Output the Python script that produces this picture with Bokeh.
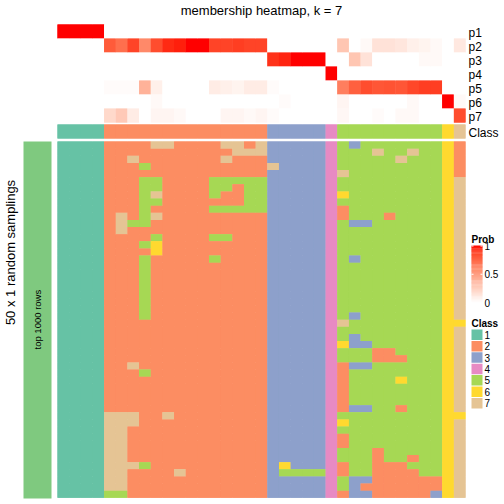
import numpy as np
from bokeh.plotting import figure
from bokeh.models import Range1d
from bokeh.core.properties import value
from bokeh.embed import file_html
from bokeh.resources import INLINE

# ---------------- data ----------------
title = "membership heatmap, k = 7"
prob_labels = ["p1", "p2", "p3", "p4", "p5", "p6", "p7"]
class_names = ["1", "2", "3", "4", "5", "6", "7"]
class_colors = ["#66C2A5", "#FC8D62", "#8DA0CB", "#E78AC3", "#A6D854", "#FFD92F", "#E5C494"]

col_class = [1, 1, 1, 1,
             2, 2, 2, 2, 2, 2, 2, 2, 2, 2, 2, 2, 2, 2,
             3, 3, 3, 3, 3,
             4,
             5, 5, 5, 5, 5, 5, 5, 5, 5,
             6,
             7]

p1 = [1, 1, 1, 1, 0, 0, 0, 0, 0, 0, 0, 0, 0, 0, 0, 0, 0, 0,
      0, 0, 0, 0, 0, 0, 0, 0, 0, 0, 0, 0, 0, 0, 0, 0, 0]
p2 = [0, 0, 0, 0, 0.8, 0.72, 0.88, 0.6, 0.85, 0.95, 0.97, 1.0, 1.0, 0.88, 0.88, 0.9, 0.88, 0.88,
      0, 0, 0, 0, 0, 0, 0.3, 0, 0.03, 0.15, 0.15, 0.13, 0.08, 0.06, 0.03, 0, 0.12]
p3 = [0, 0, 0, 0, 0, 0, 0, 0, 0, 0, 0, 0, 0, 0, 0, 0, 0, 0,
      0.93, 0.96, 1.0, 1.0, 1.0, 0, 0, 0.3, 0.15, 0, 0, 0, 0, 0.03, 0.03, 0, 0]
p4 = [0, 0, 0, 0, 0, 0, 0, 0, 0, 0, 0, 0, 0, 0, 0, 0, 0, 0,
      0, 0, 0, 0, 0, 1.0, 0, 0, 0, 0, 0, 0, 0, 0, 0, 0, 0]
p5 = [0, 0, 0, 0, 0.02, 0.02, 0.02, 0.4, 0.08, 0, 0, 0, 0, 0.1, 0.08, 0.06, 0.1, 0.1,
      0.02, 0, 0, 0, 0, 0, 0.65, 0.78, 0.85, 0.82, 0.83, 0.82, 0.87, 0.9, 0.9, 0, 0]
p6 = [0, 0, 0, 0, 0, 0, 0, 0, 0.03, 0, 0, 0, 0, 0, 0, 0, 0, 0,
      0, 0.02, 0, 0, 0, 0, 0.05, 0, 0, 0, 0, 0, 0.03, 0, 0, 1.0, 0.03]
p7 = [0, 0, 0, 0, 0.2, 0.28, 0.1, 0, 0.05, 0.05, 0.03, 0, 0, 0, 0.05, 0.05, 0.03, 0.05,
      0.02, 0, 0, 0, 0, 0, 0.04, 0, 0, 0.02, 0, 0.03, 0.03, 0, 0, 0, 0.85]
probs = [p1, p2, p3, p4, p5, p6, p7]

# 50 random samplings (rows) x 35 samples (columns): class assignment
samplings = [
    "1111 22227722227727 33333 4 535555555 6 2",
    "1111 22222222222777 33333 4 555755755 6 2",
    "1111 22722222227222 33333 4 555557555 6 2",
    "1111 22252222222222 73333 4 555555555 6 2",
    "1111 22222222222222 33333 4 755555555 6 2",
    "1111 22255222255555 33333 4 555555555 6 7",
    "1111 22255222255255 33333 4 555555555 6 7",
    "1111 22257222252255 33333 4 655555555 6 7",
    "1111 22255222222255 33333 4 555555555 6 7",
    "1111 22252222255555 33333 4 255555555 6 7",
    "1111 27257222222222 33333 4 255525555 6 7",
    "1111 27552222222222 33333 4 533555555 6 7",
    "1111 27222222222222 33333 4 555555555 6 7",
    "1111 22225222255222 33333 4 555555555 6 7",
    "1111 22256222222222 33333 4 555555555 6 7",
    "1111 22226222222222 33333 4 555555555 6 7",
    "1111 22252222252222 33333 4 535555555 6 7",
    "1111 22252222222222 33333 4 555555555 6 7",
    "1111 22252222222222 33333 4 555555555 6 7",
    "1111 22252222222222 33333 4 555555555 6 7",
    "1111 22252222222222 33333 4 555555555 6 7",
    "1111 22252222222222 33333 4 555555555 6 7",
    "1111 22252222222222 33333 4 555555555 6 7",
    "1111 22252222222222 33333 4 555555555 6 7",
    "1111 22252222222222 33333 4 535555555 6 7",
    "1111 22222222222222 33333 4 755555555 6 6",
    "1111 22222222222222 33333 4 555555555 6 7",
    "1111 22222222222222 33333 4 535555555 6 7",
    "1111 22222222222222 33333 4 633555555 6 7",
    "1111 22222222222222 33333 4 555225555 6 7",
    "1111 22222222222222 33333 4 555222555 6 7",
    "1111 22722222222222 33333 4 233555555 6 7",
    "1111 22252222222222 33333 4 255555555 6 7",
    "1111 22222222222222 33333 4 255556555 6 7",
    "1111 22222222222222 33333 4 255555555 6 7",
    "1111 22222222222222 33333 4 255555555 6 7",
    "1111 22222222222222 33333 4 255555555 6 7",
    "1111 22222222222222 33333 4 233552555 6 7",
    "1111 77722722222222 33333 4 555555555 6 6",
    "1111 77722222222222 33333 4 655555555 6 7",
    "1111 77222222222222 33333 4 555555555 6 7",
    "1111 77222222222222 33333 4 255555555 6 7",
    "1111 77222222222222 33333 4 255555555 6 7",
    "1111 77222222222222 33333 4 555255555 6 7",
    "1111 77222222222222 33333 4 555255255 6 7",
    "1111 77752222222222 36333 4 255222555 6 7",
    "1111 77222272222222 35555 4 255222255 6 7",
    "1111 77222222222222 33333 4 533222222 6 7",
    "1111 77222222222222 33333 4 532222222 6 7",
    "1111 55222222222222 33333 4 233222223 6 7",
]
left_label = "50 x 1 random samplings"
bar_label = "top 1000 rows"
prob_ticks = [0, 0.5, 1]

# ---------------- colour helpers ----------------
def lab_to_hex(L, a, b):
    fy = (L + 16) / 116.0
    fx = fy + a / 500.0
    fz = fy - b / 200.0
    def finv(t):
        return t ** 3 if t ** 3 > 0.008856 else (t - 16 / 116.0) / 7.787
    X, Y, Z = 0.95047 * finv(fx), 1.0 * finv(fy), 1.08883 * finv(fz)
    r = 3.2406 * X - 1.5372 * Y - 0.4986 * Z
    g = -0.9689 * X + 1.8758 * Y + 0.0415 * Z
    bb = 0.0557 * X - 0.2040 * Y + 1.0570 * Z
    def gam(c):
        c = 12.92 * c if c <= 0.0031308 else 1.055 * c ** (1 / 2.4) - 0.055
        return int(round(min(max(c, 0), 1) * 255))
    return "#%02x%02x%02x" % (gam(r), gam(g), gam(bb))

WHITE_LAB = (100.0, 0.0, 0.0)
RED_LAB = (53.24, 80.09, 67.20)

def prob_color(v):
    return lab_to_hex(*[w + (r - w) * v for w, r in zip(WHITE_LAB, RED_LAB)])

# ---------------- geometry (pixel space of the 504x504 page) ----------------
X0, X1 = 57.0, 465.0
NC = len(col_class)
CW = (X1 - X0) / NC
TY0, TH = 24.0, 14.0
CY0, CH = 124.0, 14.0
BY0, BY1 = 141.0, 497.3
NR = len(samplings)
BH = (BY1 - BY0) / NR
FONT = "Liberation Sans"

p = figure(width=504, height=504, x_range=Range1d(0, 504), y_range=Range1d(504, 0),
           output_backend="svg", toolbar_location=None, min_border=0)
p.axis.visible = False
p.xgrid.visible = False
p.ygrid.visible = False
p.outline_line_color = None
p.background_fill_color = "white"


def draw_grid(colors, y_top, row_h):
    """Draw a colour matrix as merged runs: horizontal runs first, then vertical
    runs on top, so no anti-aliasing seams appear between equal neighbours."""
    nr, nc = len(colors), len(colors[0])
    L, R, T, B, C = [], [], [], [], []
    for i in range(nr):
        j = 0
        while j < nc:
            k = j
            while k + 1 < nc and colors[i][k + 1] == colors[i][j]:
                k += 1
            L.append(X0 + j * CW); R.append(X0 + (k + 1) * CW)
            T.append(y_top + i * row_h); B.append(y_top + (i + 1) * row_h)
            C.append(colors[i][j])
            j = k + 1
    p.quad(left=L, right=R, top=T, bottom=B, fill_color=C, line_color=None)
    L, R, T, B, C = [], [], [], [], []
    for j in range(nc):
        i = 0
        while i < nr:
            k = i
            while k + 1 < nr and colors[k + 1][j] == colors[i][j]:
                k += 1
            L.append(X0 + j * CW); R.append(X0 + (j + 1) * CW)
            T.append(y_top + i * row_h); B.append(y_top + (k + 1) * row_h)
            C.append(colors[i][j])
            i = k + 1
    p.quad(left=L, right=R, top=T, bottom=B, fill_color=C, line_color=None)


# top probability heatmap (rows p1..p7)
draw_grid([[prob_color(v) for v in row] for row in probs], TY0, TH)

# class annotation row
draw_grid([[class_colors[c - 1] for c in col_class]], CY0, CH)

# bottom sampling heatmap
draw_grid([[class_colors[int(ch) - 1] for ch in s.replace(" ", "")] for s in samplings], BY0, BH)

# left green split bar
p.quad(left=[23], right=[51], top=[BY0], bottom=[BY1 + 0.8], fill_color="#7FC97F", line_color=None)
p.text(x=[37], y=[(BY0 + BY1) / 2], text=[bar_label], angle=np.pi / 2,
       text_font=value(FONT), text_font_size="9.5px", text_align="center",
       text_baseline="middle", text_color="black")
p.text(x=[10], y=[252], text=[left_label], angle=np.pi / 2,
       text_font=value(FONT), text_font_size="13px", text_align="center",
       text_baseline="middle", text_color="black")

# title
p.text(x=[(X0 + X1) / 2], y=[10], text=[title], text_font=value(FONT), text_font_size="13px",
       text_align="center", text_baseline="middle", text_color="black")

# row labels
p.text(x=[468] * 8, y=[TY0 + (i + 0.5) * TH + 1.5 for i in range(7)] + [CY0 + CH / 2 + 1],
       text=prob_labels + ["Class"], text_font=value(FONT), text_font_size="12px",
       text_align="left", text_baseline="middle", text_color="black")

# Prob legend (colour bar)
LX0, LX1 = 471.0, 482.0
CB_TOP, CB_BOT = 245.5, 302.0
ns = 60
dy = (CB_BOT - CB_TOP) / ns
gc = [prob_color((k + 0.5) / ns) for k in range(ns)]
p.quad(left=[LX0] * ns, right=[LX1] * ns,
       top=[CB_BOT - (k + 1) * dy - 0.4 for k in range(ns)],
       bottom=[CB_BOT - k * dy for k in range(ns)],
       fill_color=gc, line_color=None)
for t in prob_ticks[1:]:
    yy = CB_BOT - t * (CB_BOT - CB_TOP)
    p.segment(x0=[LX0, LX1 - 2], x1=[LX0 + 2, LX1], y0=[yy, yy], y1=[yy, yy],
              line_color="white", line_width=1)
p.text(x=[484] * 3, y=[CB_BOT - t * (CB_BOT - CB_TOP) for t in prob_ticks],
       text=["0", "0.5", "1"], text_font=value(FONT), text_font_size="10px",
       text_align="left", text_baseline="middle", text_color="black")
p.text(x=[471], y=[239], text=["Prob"], text_font=value(FONT), text_font_size="10px",
       text_font_style="bold", text_align="left", text_baseline="alphabetic", text_color="black")

# Class legend
p.text(x=[471], y=[323], text=["Class"], text_font=value(FONT), text_font_size="10px",
       text_font_style="bold", text_align="left", text_baseline="alphabetic", text_color="black")
LY0, LSTEP, LH = 329.0, 11.4, 10.5
nk = len(class_names)
p.quad(left=[LX0] * nk, right=[LX1] * nk,
       top=[LY0 + k * LSTEP for k in range(nk)], bottom=[LY0 + k * LSTEP + LH for k in range(nk)],
       fill_color=class_colors, line_color=None)
p.text(x=[484] * nk, y=[LY0 + k * LSTEP + LH / 2 for k in range(nk)], text=class_names,
       text_font=value(FONT), text_font_size="10px", text_align="left",
       text_baseline="middle", text_color="black")

open("out.html", "w").write(file_html(p, INLINE))
